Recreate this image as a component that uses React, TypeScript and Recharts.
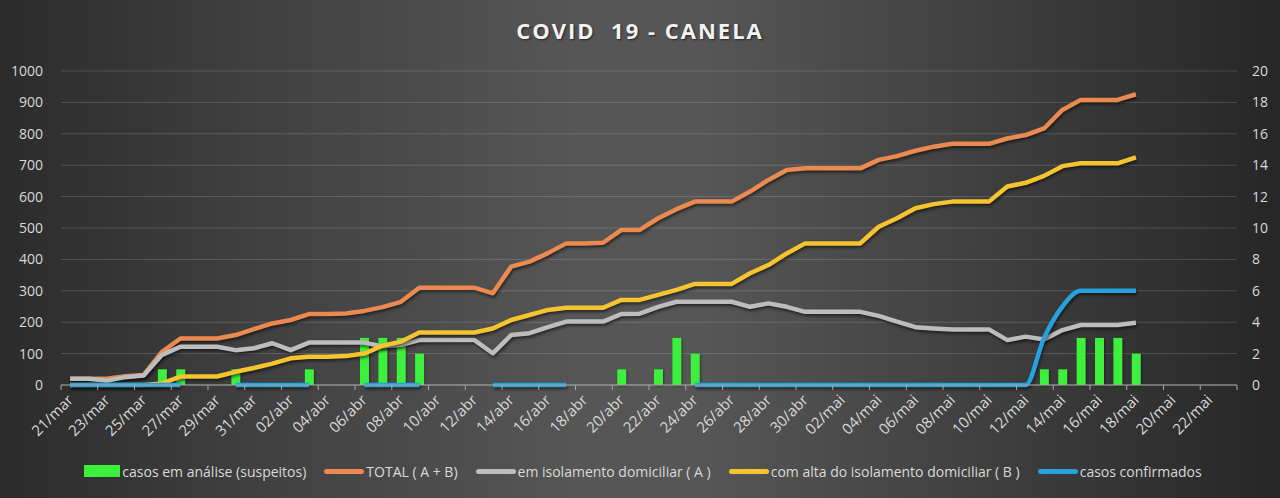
import { ComposedChart, Bar, Line, XAxis, YAxis, CartesianGrid, Legend } from "recharts";

const W = 1280;
const H = 498;
const FONT = "'Open Sans', sans-serif";

const dates = [
  "21/mar", "22/mar", "23/mar", "24/mar", "25/mar", "26/mar", "27/mar", "28/mar", "29/mar", "30/mar", "31/mar",
  "01/abr", "02/abr", "03/abr", "04/abr", "05/abr", "06/abr", "07/abr", "08/abr", "09/abr", "10/abr",
  "11/abr", "12/abr", "13/abr", "14/abr", "15/abr", "16/abr", "17/abr", "18/abr", "19/abr", "20/abr",
  "21/abr", "22/abr", "23/abr", "24/abr", "25/abr", "26/abr", "27/abr", "28/abr", "29/abr", "30/abr",
  "01/mai", "02/mai", "03/mai", "04/mai", "05/mai", "06/mai", "07/mai", "08/mai", "09/mai", "10/mai",
  "11/mai", "12/mai", "13/mai", "14/mai", "15/mai", "16/mai", "17/mai", "18/mai", "19/mai", "20/mai",
  "21/mai", "22/mai", "23/mai",
];

const _ = null;

// right axis (0-20)
const suspeitos = [
  _, _, _, _, _, 1, 1, _, _, 1, _, _, _, 1, _, _, 3, 3, 3, 2,
  _, _, _, _, _, _, _, _, _, _, 1, _, 1, 3, 2,
  _, _, _, _, _, _, _, _, _, _, _, _, _, _, _, _, _, _,
  1, 1, 3, 3, 3, 2,
];
const confirmados = [
  0, 0, 0, 0, 0, 0, 0, _, _, 0, 0, 0, 0, 0, _, _, 0, 0, 0, 0,
  _, _, _, 0, 0, 0, 0, 0, _, _, _, _, _, _,
  0, 0, 0, 0, 0, 0, 0, 0, 0, 0, 0, 0, 0, 0, 0, 0, 0, 0, 0,
  3, 5, 6, 6, 6, 6,
];

// left axis (0-1000)
const total = [
  20, 20, 20, 28, 32, 106, 148, 148, 148, 159,
  178, 196, 207, 226, 226, 228, 236, 248, 265, 310,
  310, 310, 310, 292, 377, 393, 420, 451, 451, 453,
  494, 494, 531, 560, 584, 584, 584, 616, 653, 685,
  690, 690, 690, 690, 717, 729, 746, 759, 768, 768,
  768, 785, 796, 817, 876, 908, 908, 908, 926,
];
const isolamento = [
  20, 20, 14, 25, 30, 96, 122, 122, 122, 111,
  117, 133, 111, 135, 135, 135, 135, 123, 128, 143,
  143, 143, 143, 101, 159, 165, 184, 202, 202, 202,
  226, 227, 249, 265, 265, 265, 265, 249, 260, 249,
  233, 233, 233, 233, 220, 202, 184, 180, 177, 177,
  177, 143, 154, 145, 175, 191, 191, 191, 198,
];
const alta = [
  0, 0, 0, 0, 0, 5, 27, 27, 27, 42,
  54, 68, 85, 90, 90, 92, 100, 125, 138, 167,
  167, 167, 167, 180, 207, 223, 239, 246, 246, 246,
  271, 271, 287, 303, 322, 322, 322, 356, 382, 419,
  451, 451, 451, 451, 504, 531, 563, 576, 584, 584,
  584, 632, 644, 666, 697, 706, 706, 706, 725,
];

const leftTicks = [0, 100, 200, 300, 400, 500, 600, 700, 800, 900, 1000];
const rightTicks = [0, 2, 4, 6, 8, 10, 12, 14, 16, 18, 20];

const names = {
  suspeitos: "casos em análise (suspeitos)",
  total: "TOTAL ( A + B)",
  isolamento: "em isolamento domiciliar ( A )",
  alta: "com alta do isolamento domiciliar ( B )",
  confirmados: "casos confirmados",
};
const legendOrder = [names.suspeitos, names.total, names.isolamento, names.alta, names.confirmados];

const data = dates.map((d, i) => ({
  date: d,
  suspeitos: suspeitos[i] ?? null,
  confirmados: confirmados[i] ?? null,
  total: total[i] ?? null,
  isolamento: isolamento[i] ?? null,
  alta: alta[i] ?? null,
}));

const LEFT_W = 61;
const RIGHT_W = 43;
const band = (W - LEFT_W - RIGHT_W) / dates.length;

function XTick(props: any) {
  const { x, y, payload } = props;
  const idx = dates.indexOf(payload.value);
  const tx = x + 4;
  const ty = y + 16;
  return (
    <g>
      <line x1={x - band / 2} x2={x - band / 2} y1={y} y2={y + 5} stroke="#a6a6a6" />
      {idx === dates.length - 2 && (
        <line x1={x + band * 1.5} x2={x + band * 1.5} y1={y} y2={y + 5} stroke="#a6a6a6" />
      )}
      <text
        x={tx}
        y={ty}
        transform={`rotate(-45 ${tx} ${ty})`}
        textAnchor="end"
        fill="#d9d9d9"
        fontSize={15}
        fontFamily={FONT}
      >
        {payload.value}
      </text>
    </g>
  );
}

function renderLegend(props: any) {
  const items = [...(props.payload ?? [])].sort(
    (a: any, b: any) => legendOrder.indexOf(a.value) - legendOrder.indexOf(b.value)
  );
  return (
    <div
      style={{
        display: "flex",
        justifyContent: "center",
        alignItems: "center",
        height: 24,
        paddingLeft: 6,
        fontFamily: FONT,
        fontSize: 14,
        color: "#d9d9d9",
        whiteSpace: "pre",
      }}
    >
      {items.map((it: any, i: number) => (
        <div
          key={it.value}
          style={{ display: "flex", alignItems: "center", marginRight: i === items.length - 1 ? 0 : 18 }}
        >
          {it.type === "rect" ? (
            <span style={{ width: 36, height: 12, background: it.color, display: "inline-block" }} />
          ) : (
            <span
              style={{ width: 40, height: 5, borderRadius: 3, background: it.color, display: "inline-block" }}
            />
          )}
          <span style={{ marginLeft: 2 }}>{it.value}</span>
        </div>
      ))}
    </div>
  );
}

export default function App() {
  const axisTick = { fill: "#d9d9d9", fontSize: 14, fontFamily: FONT };
  return (
    <div
      style={{
        position: "relative",
        width: W,
        height: H,
        background:
          "linear-gradient(90deg, #2b2b2b 0%, #404040 20%, #565656 45%, #565656 55%, #3c3c3c 80%, #262626 100%)",
      }}
    >
      <style>{`
        body { margin: 0; }
        .recharts-line-curve { filter: drop-shadow(1px 2px 1.5px rgba(0,0,0,0.55)); }
        .recharts-bar-rectangle path { filter: drop-shadow(1px 1px 1px rgba(0,0,0,0.4)); }
      `}</style>
      <ComposedChart width={W} height={H} data={data} margin={{ top: 71, right: 0, left: 0, bottom: 15 }}>
        <CartesianGrid vertical={false} yAxisId="left" stroke="rgba(255,255,255,0.16)" />
        <XAxis
          dataKey="date"
          interval={1}
          tickLine={false}
          tickSize={0}
          tickMargin={0}
          height={74}
          axisLine={{ stroke: "#a6a6a6" }}
          tick={<XTick />}
        />
        <YAxis
          yAxisId="left"
          domain={[0, 1000]}
          ticks={leftTicks}
          width={LEFT_W}
          axisLine={false}
          tickLine={false}
          tickSize={0}
          tickMargin={18}
          tick={axisTick}
        />
        <YAxis
          yAxisId="right"
          orientation="right"
          domain={[0, 20]}
          ticks={rightTicks}
          width={RIGHT_W}
          axisLine={false}
          tickLine={false}
          tickSize={0}
          tickMargin={15}
          tick={axisTick}
        />
        <Legend verticalAlign="bottom" content={renderLegend} />
        <Bar
          yAxisId="right"
          dataKey="suspeitos"
          name={names.suspeitos}
          fill="#3ef03e"
          barSize={9}
          isAnimationActive={false}
        />
        <Line
          yAxisId="left"
          type="linear"
          dataKey="total"
          name={names.total}
          stroke="#ea8a50"
          strokeWidth={4.5}
          strokeLinejoin="round"
          dot={false}
          activeDot={false}
          isAnimationActive={false}
        />
        <Line
          yAxisId="left"
          type="linear"
          dataKey="isolamento"
          name={names.isolamento}
          stroke="#bdbdbd"
          strokeWidth={4.5}
          strokeLinejoin="round"
          dot={false}
          activeDot={false}
          isAnimationActive={false}
        />
        <Line
          yAxisId="left"
          type="linear"
          dataKey="alta"
          name={names.alta}
          stroke="#f6c42e"
          strokeWidth={4.5}
          strokeLinejoin="round"
          dot={false}
          activeDot={false}
          isAnimationActive={false}
        />
        <Line
          yAxisId="right"
          type="monotone"
          dataKey="confirmados"
          name={names.confirmados}
          stroke="#27a2dc"
          strokeWidth={4.5}
          strokeLinejoin="round"
          dot={false}
          activeDot={false}
          isAnimationActive={false}
        />
      </ComposedChart>
      <div
        style={{
          position: "absolute",
          top: 15,
          left: 0,
          width: W,
          textAlign: "center",
          lineHeight: "30px",
          fontFamily: FONT,
          fontWeight: 700,
          fontSize: 22,
          letterSpacing: 2,
          color: "#f2f2f2",
          whiteSpace: "pre",
          textShadow: "1px 1px 2px rgba(0,0,0,0.6)",
          pointerEvents: "none",
        }}
      >
        {"COVID  19 - CANELA"}
      </div>
    </div>
  );
}
